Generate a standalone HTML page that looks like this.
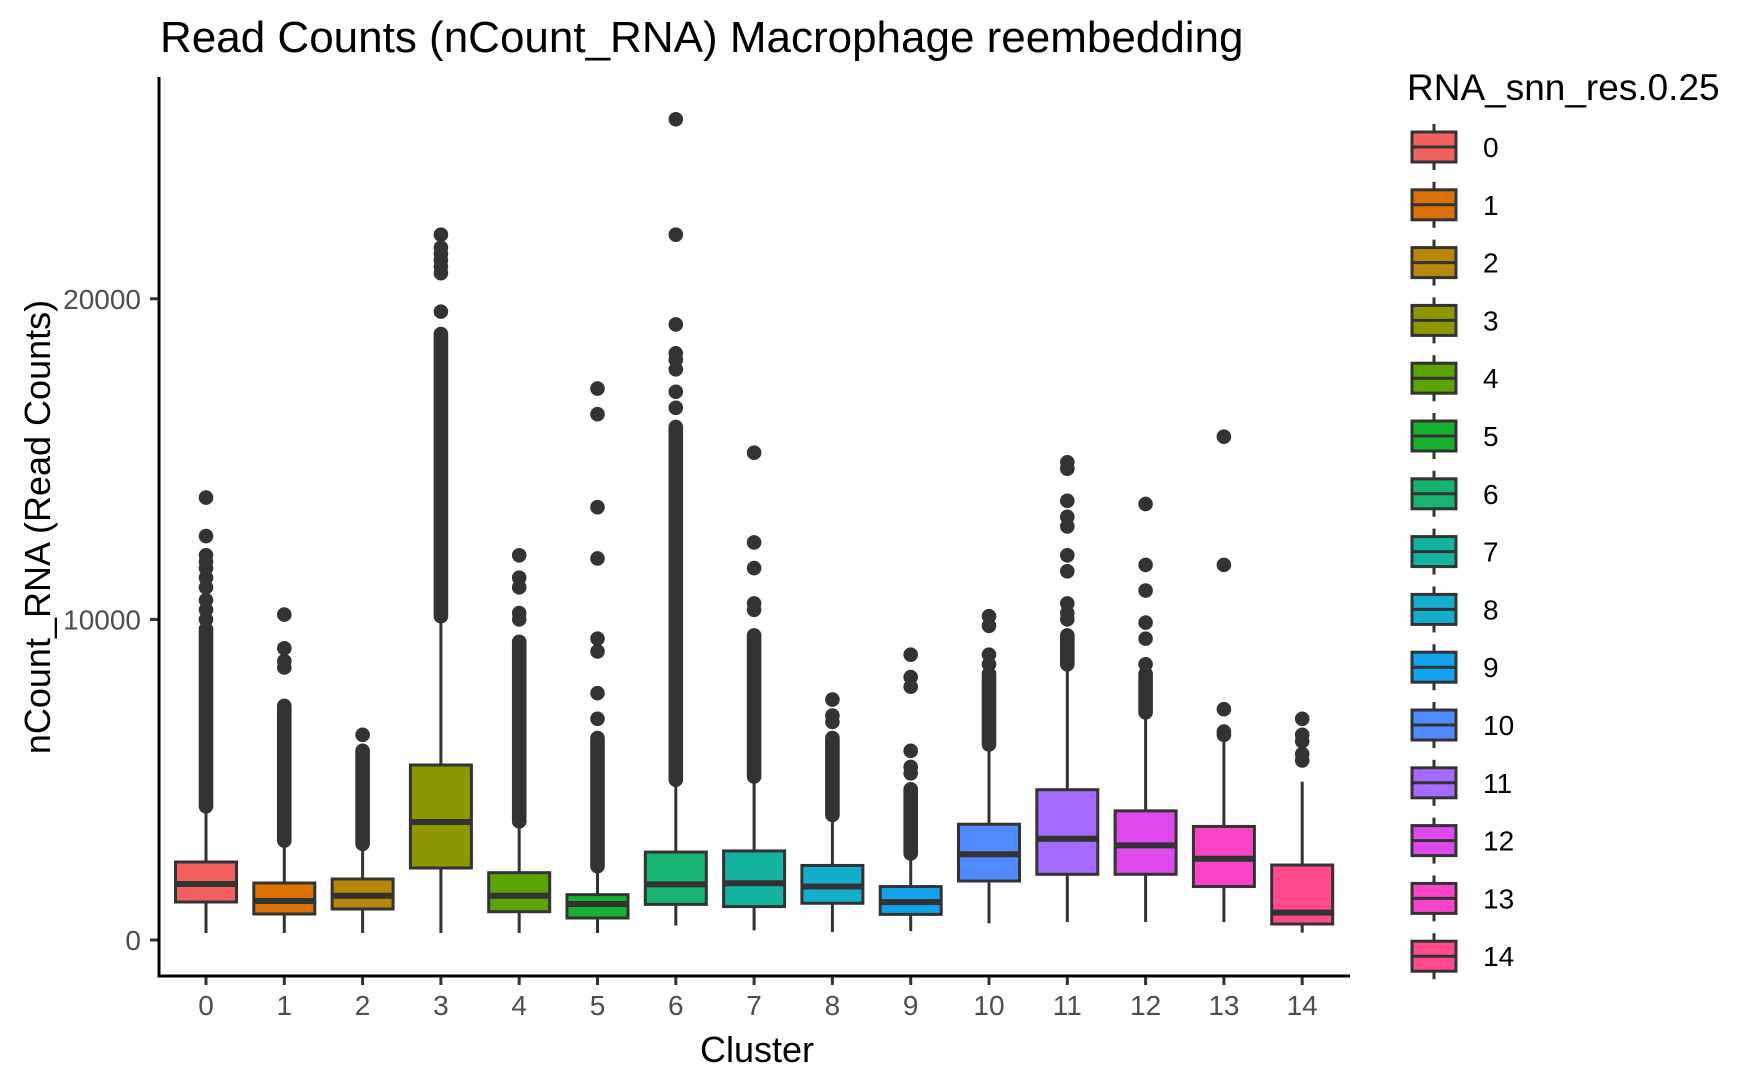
<!DOCTYPE html>
<html><head><meta charset="utf-8"><style>
html,body{margin:0;padding:0;background:#fff;}
svg{display:block;font-family:"Liberation Sans",Arial,sans-serif;}
</style></head><body>
<svg id="chart" width="1750" height="1081" viewBox="0 0 1750 1081" xmlns="http://www.w3.org/2000/svg">
<text x="160" y="52" font-size="44" fill="#000">Read Counts (nCount_RNA) Macrophage reembedding</text>
<g id="plot"></g>
<text transform="translate(50,527) rotate(-90)" text-anchor="middle" font-size="36" fill="#000">nCount_RNA (Read Counts)</text>
<text x="757" y="1062" text-anchor="middle" font-size="36" fill="#000">Cluster</text>
<text x="1407" y="100" font-size="37" fill="#000">RNA_snn_res.0.25</text>
<g id="legend"></g>
</svg>
<script>
const categories = ["0","1","2","3","4","5","6","7","8","9","10","11","12","13","14"];
const colors = ["#F26160","#DC7207","#B8860A","#8F9700","#5AA405","#15B231","#17B46F","#14B3A0","#12AECB","#13A2EC","#4F8BFF","#A56BFF","#DE4AEE","#F944C9","#FF4A90"];
const q1Values = [1185,811,967,2246,883,686,1111,1042,1146,799,1840,2049,2049,1667,499];
const medianValues = [1747,1216,1382,3680,1382,1123,1736,1771,1667,1180,2674,3160,2951,2535,852];
const q3Values = [2433,1778,1903,5459,2100,1414,2743,2778,2326,1667,3611,4688,4028,3542,2339];
const whiskerLow = [218,220,220,218,220,220,450,300,250,278,520,560,560,560,228];
const whiskerHigh = [4100,3000,2950,10050,3600,2250,4950,5050,3850,2650,6000,8500,7000,6300,4938];
const denseLow = [4170,3100,3000,10100,3700,2300,5000,5100,3900,2700,6100,8600,7100,null,null];
const denseHigh = [9700,7300,5900,18900,9300,6300,16000,9500,6300,4700,8300,9500,8300,null,null];
const sparseOutliers = [
 [10000,10300,10600,11000,11300,11600,11800,12000,12600,13800],
 [8500,8700,9100,10150],
 [6400],
 [19600,20800,21000,21200,21400,21600,22000],
 [10000,10200,11000,11300,12000],
 [6900,7700,9000,9400,11900,13500,16400,17200],
 [16600,17100,17800,18100,18300,19200,22000,25600],
 [10300,10500,11600,12400,15200],
 [6800,7000,7500],
 [5200,5400,5900,7900,8200,8900],
 [8600,8900,9800,10100],
 [10000,10200,10500,11500,12000,12900,13200,13700,14700,14900],
 [8600,9400,9900,10900,11700,13600],
 [6400,6500,7200,11700,15700],
 [5600,5800,6200,6400,6900]
];
const yTicks = [0,10000,20000];
const yTickLabels = ["0","10000","20000"];

const NS="http://www.w3.org/2000/svg";
const plot=document.getElementById('plot');
const legend=document.getElementById('legend');
function yScale(v){return 940 - v*0.03206;}
function xScale(i){return 206 + i*78.3;}
function mk(tag,attrs,parent){const e=document.createElementNS(NS,tag);for(const k in attrs)e.setAttribute(k,attrs[k]);parent.appendChild(e);return e;}

const BW=61, R=7.3, ST="#333333";
categories.forEach((c,i)=>{
  const g=mk('g',{},plot);
  
  
  const x=xScale(i);
  const wl=mk('line',{x1:x,x2:x,y1:yScale(whiskerLow[i]),y2:yScale(q1Values[i]),stroke:ST,'stroke-width':3},g);
  
  
  const wh=mk('line',{x1:x,x2:x,y1:yScale(q3Values[i]),y2:yScale(whiskerHigh[i]),stroke:ST,'stroke-width':3},g);
  
  
  if(denseLow[i]!==null){
    const yt=yScale(denseHigh[i])-R, yb=yScale(denseLow[i])+R;
    const d=mk('rect',{x:x-R,y:yt,width:2*R,height:yb-yt,rx:R,ry:R,fill:ST},g);
    
    
  }
  sparseOutliers[i].forEach(v=>{
    const p=mk('circle',{cx:x,cy:yScale(v),r:R,fill:ST},g);
    
    
  });
  const b=mk('rect',{x:x-BW/2,y:yScale(q3Values[i]),width:BW,height:yScale(q1Values[i])-yScale(q3Values[i]),fill:colors[i],stroke:ST,'stroke-width':3},g);
  
  
  const m=mk('line',{x1:x-BW/2,x2:x+BW/2,y1:yScale(medianValues[i]),y2:yScale(medianValues[i]),stroke:ST,'stroke-width':6},g);
  
  
  const t=mk('line',{x1:x,x2:x,y1:976,y2:985,stroke:ST,'stroke-width':3},plot);
  
  
  const tl=mk('text',{x:x,y:1015,'text-anchor':'middle','font-size':28,fill:'#4d4d4d'},plot);
  tl.textContent=c;
  
  
  const ly=147+i*57.8;
  const lg=mk('g',{},legend);
  
  
  mk('line',{x1:1434,x2:1434,y1:ly-23,y2:ly+23,stroke:ST,'stroke-width':3},lg);
  mk('rect',{x:1412,y:ly-15,width:44,height:30,fill:colors[i],stroke:ST,'stroke-width':3},lg);
  mk('line',{x1:1412,x2:1456,y1:ly,y2:ly,stroke:ST,'stroke-width':3},lg);
  const lt=mk('text',{x:1483,y:ly+10,'font-size':28,fill:'#000'},lg);
  lt.textContent=c;
  
  
});
yTicks.forEach((v,k)=>{
  const y=yScale(v);
  const t=mk('line',{x1:150,x2:159,y1:y,y2:y,stroke:ST,'stroke-width':3},plot);
  
  
  const tl=mk('text',{x:141,y:y+10,'text-anchor':'end','font-size':28,fill:'#4d4d4d'},plot);
  tl.textContent=yTickLabels[k];
  
  
});
const ya=mk('line',{x1:159,x2:159,y1:77,y2:977.5,stroke:'#000','stroke-width':3},plot);


const xa=mk('line',{x1:157.5,x2:1350,y1:976,y2:976,stroke:'#000','stroke-width':3},plot);


</script>
</body></html>
